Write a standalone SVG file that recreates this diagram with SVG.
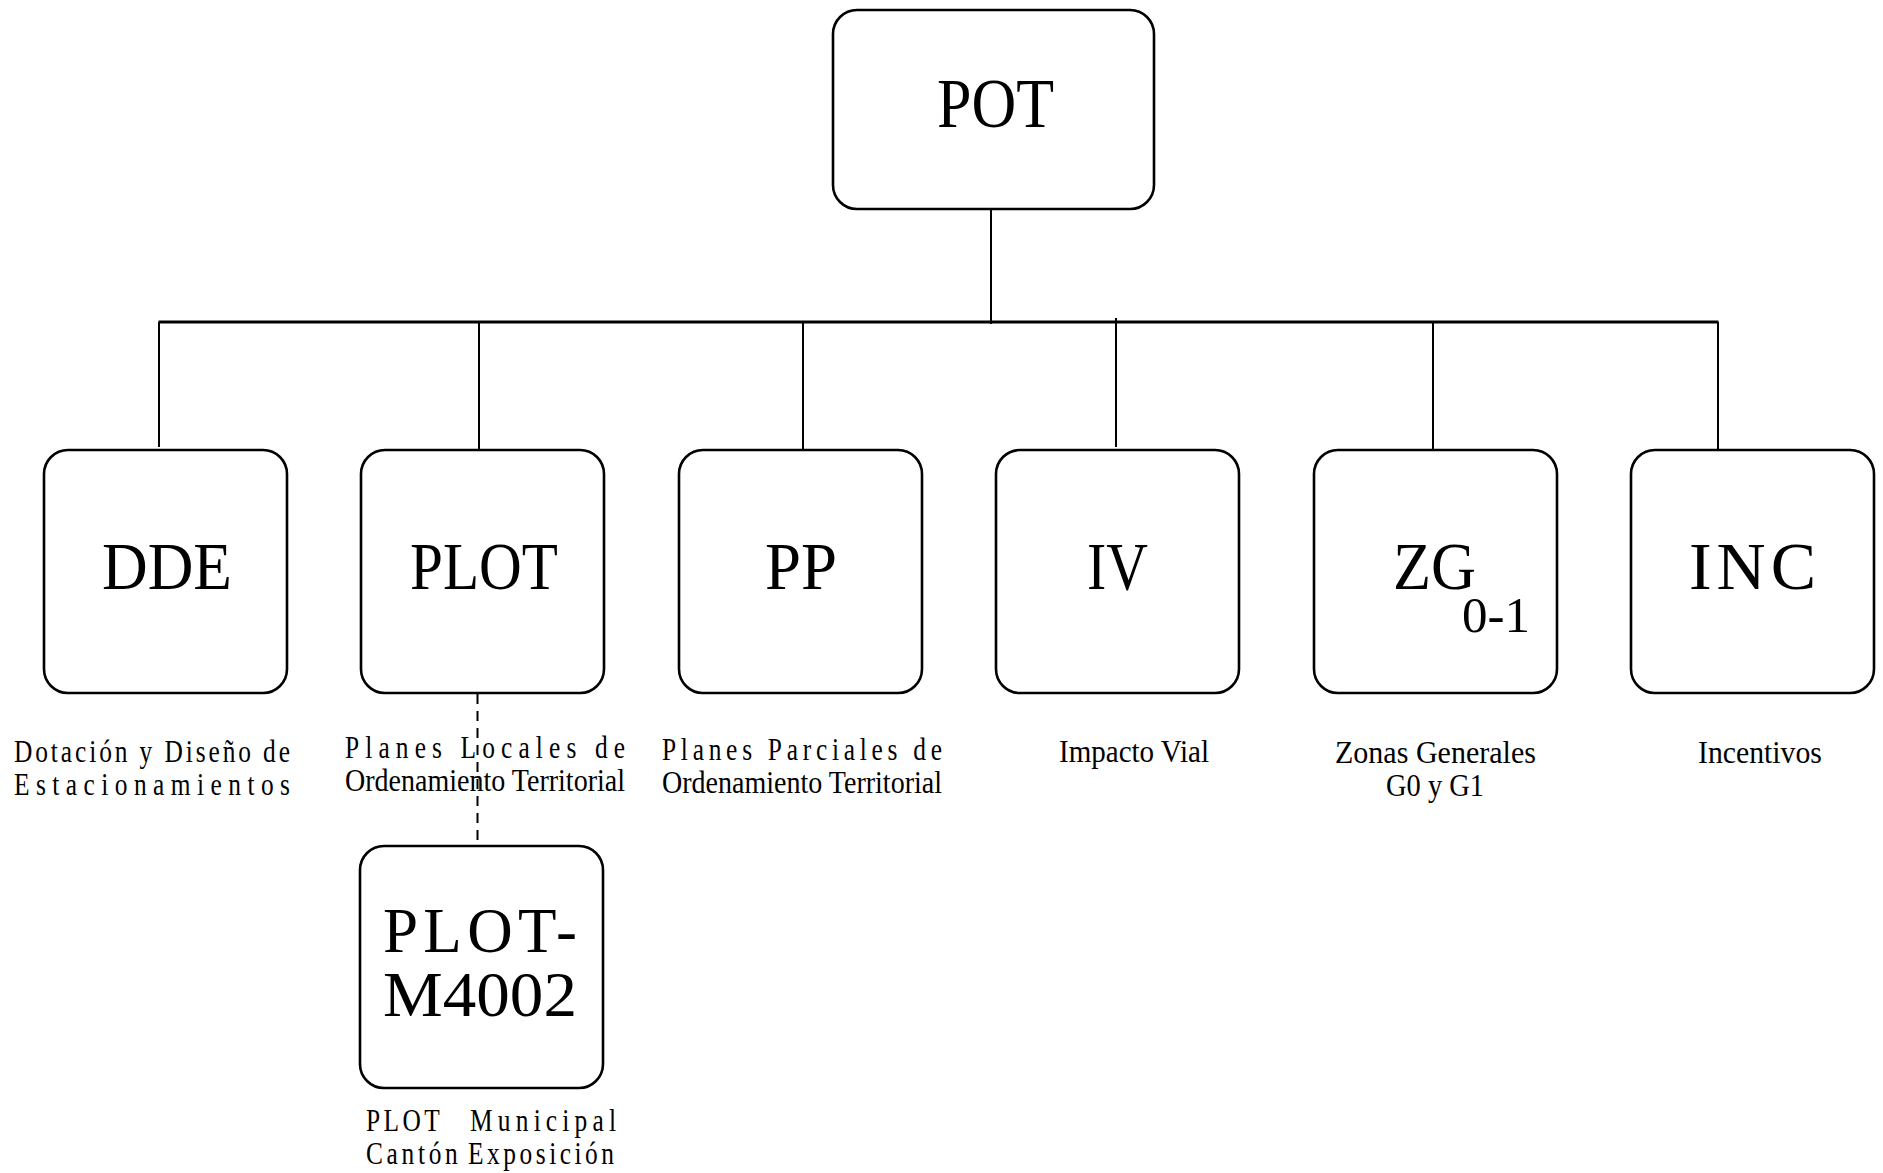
<svg xmlns="http://www.w3.org/2000/svg" width="1883" height="1173" viewBox="0 0 1883 1173">
<style>
.box{fill:#fff;stroke:#000;stroke-width:2.6}
.t{font-family:"Liberation Serif","Times New Roman",serif;fill:#000}
.big{font-size:68px}
.lbl{font-size:31px}
.ln{stroke:#000;stroke-width:2;fill:none}
.hl{stroke:#000;stroke-width:2.8;fill:none}
.dash{stroke:#000;stroke-width:2;fill:none;stroke-dasharray:10 7}
</style>
<rect width="1883" height="1173" fill="#fff"/>
<g id="connectors">
<line class="ln" x1="991" y1="209" x2="991" y2="324"/>
<line class="hl" x1="158.5" y1="322" x2="1718.5" y2="322"/>
<line class="ln" x1="159" y1="322" x2="159" y2="447"/>
<line class="ln" x1="479" y1="322" x2="479" y2="450"/>
<line class="ln" x1="803" y1="322" x2="803" y2="450"/>
<line class="ln" x1="1116" y1="318" x2="1116" y2="447"/>
<line class="ln" x1="1433" y1="322" x2="1433" y2="450"/>
<line class="ln" x1="1718" y1="322" x2="1718" y2="450"/>
<line class="dash" x1="477.5" y1="694" x2="477.5" y2="846"/>
</g>
<g id="POT">
<rect class="box" x="833" y="10" width="321" height="199" rx="24"/>
<text class="t" x="937" y="127" font-size="70" textLength="117" lengthAdjust="spacingAndGlyphs">POT</text>
</g>
<g id="DDE">
<rect class="box" x="44" y="450" width="243" height="243" rx="24"/>
<text class="t big" x="102" y="589" textLength="130" lengthAdjust="spacingAndGlyphs">DDE</text>
<text class="t lbl" transform="translate(14 762) scale(0.82 1)" textLength="336.6" lengthAdjust="spacing">Dotación y Diseño de</text>
<text class="t lbl" transform="translate(14 795) scale(0.82 1)" textLength="336.6" lengthAdjust="spacing">Estacionamientos</text>
</g>
<g id="PLOT">
<rect class="box" x="361" y="450" width="243" height="243" rx="24"/>
<text class="t big" x="410" y="589" textLength="148" lengthAdjust="spacingAndGlyphs">PLOT</text>
<text class="t lbl" transform="translate(345 758) scale(0.82 1)" textLength="341.5" lengthAdjust="spacing">Planes Locales de</text>
<text class="t lbl" transform="translate(345 791) scale(0.82 1)" textLength="341.5" lengthAdjust="spacingAndGlyphs">Ordenamiento Territorial</text>
</g>
<g id="PP">
<rect class="box" x="679" y="450" width="243" height="243" rx="24"/>
<text class="t big" x="765" y="589" textLength="72" lengthAdjust="spacingAndGlyphs">PP</text>
<text class="t lbl" transform="translate(662 760) scale(0.82 1)" textLength="341.5" lengthAdjust="spacing">Planes Parciales de</text>
<text class="t lbl" transform="translate(662 793) scale(0.82 1)" textLength="341.5" lengthAdjust="spacingAndGlyphs">Ordenamiento Territorial</text>
</g>
<g id="IV">
<rect class="box" x="996" y="450" width="243" height="243" rx="24"/>
<text class="t big" x="1087" y="589" textLength="61" lengthAdjust="spacingAndGlyphs">IV</text>
<text class="t lbl" transform="translate(1059 762) scale(0.82 1)" textLength="183" lengthAdjust="spacingAndGlyphs">Impacto Vial</text>
</g>
<g id="ZG">
<rect class="box" x="1314" y="450" width="243" height="243" rx="24"/>
<text class="t big" x="1393" y="589" textLength="83" lengthAdjust="spacingAndGlyphs">ZG</text>
<text class="t" x="1462" y="632" font-size="50" textLength="68" lengthAdjust="spacingAndGlyphs">0-1</text>
<text class="t lbl" transform="translate(1335 763) scale(0.82 1)" textLength="245" lengthAdjust="spacingAndGlyphs">Zonas Generales</text>
<text class="t lbl" transform="translate(1386 796) scale(0.82 1)" textLength="119.5" lengthAdjust="spacingAndGlyphs">G0 y G1</text>
</g>
<g id="INC">
<rect class="box" x="1631" y="450" width="243" height="243" rx="24"/>
<text class="t big" x="1689" y="589" textLength="127" lengthAdjust="spacing">INC</text>
<text class="t lbl" transform="translate(1698 763) scale(0.82 1)" textLength="151" lengthAdjust="spacingAndGlyphs">Incentivos</text>
</g>
<g id="PLOT-M4002">
<rect class="box" x="360" y="846" width="243" height="242" rx="24"/>
<text class="t" x="383" y="952" font-size="63" textLength="194" lengthAdjust="spacing">PLOT-</text>
<text class="t" x="383" y="1016" font-size="63" textLength="194" lengthAdjust="spacingAndGlyphs">M4002</text>
<text class="t lbl" transform="translate(366 1131) scale(0.82 1)" textLength="90" lengthAdjust="spacing">PLOT</text>
<text class="t lbl" transform="translate(616 1131) scale(0.82 1)" text-anchor="end" textLength="178" lengthAdjust="spacing">Municipal</text>
<text class="t lbl" transform="translate(366 1164) scale(0.82 1)" textLength="112" lengthAdjust="spacing">Cantón</text>
<text class="t lbl" transform="translate(614 1164) scale(0.82 1)" text-anchor="end" textLength="178" lengthAdjust="spacing">Exposición</text>
</g>
</svg>
